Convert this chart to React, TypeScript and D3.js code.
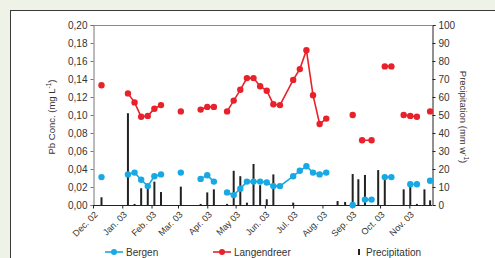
import React, { useEffect, useRef } from 'react';
import * as d3 from 'd3';

// weekly samples, null = no sample (breaks the line)
const bergenDates = ['2002-12-10', '2002-12-17', '2003-01-07', '2003-01-14', '2003-01-21', '2003-01-28', '2003-02-04', '2003-02-11', '2003-02-18', '2003-03-04', '2003-03-11', '2003-03-25', '2003-04-01', '2003-04-08', '2003-04-15', '2003-04-22', '2003-04-29', '2003-05-06', '2003-05-13', '2003-05-20', '2003-05-27', '2003-06-03', '2003-06-10', '2003-06-17', '2003-07-01', '2003-07-08', '2003-07-15', '2003-07-22', '2003-07-29', '2003-08-05', '2003-08-12', '2003-09-02', '2003-09-09', '2003-09-15', '2003-09-22', '2003-09-29', '2003-10-06', '2003-10-13', '2003-10-20', '2003-11-02', '2003-11-09', '2003-11-16', '2003-11-23'];
const bergenValues = [0.031, null, 0.034, 0.036, 0.028, 0.021, 0.032, 0.034, null, 0.036, null, 0.029, 0.033, 0.026, null, 0.014, 0.011, 0.018, 0.026, 0.026, 0.026, 0.025, 0.021, 0.021, 0.032, 0.038, 0.043, 0.036, 0.034, 0.036, null, 0.0, null, 0.006, 0.006, null, 0.031, 0.031, null, 0.023, 0.023, null, 0.027];

const langDates = ['2002-12-10', '2002-12-17', '2003-01-07', '2003-01-14', '2003-01-21', '2003-01-28', '2003-02-04', '2003-02-11', '2003-02-18', '2003-03-04', '2003-03-11', '2003-03-25', '2003-04-01', '2003-04-08', '2003-04-15', '2003-04-22', '2003-04-29', '2003-05-06', '2003-05-13', '2003-05-20', '2003-05-27', '2003-06-03', '2003-06-10', '2003-06-17', '2003-07-01', '2003-07-08', '2003-07-15', '2003-07-22', '2003-07-29', '2003-08-05', '2003-08-12', '2003-09-02', '2003-09-05', '2003-09-12', '2003-09-22', '2003-09-29', '2003-10-06', '2003-10-13', '2003-10-20', '2003-10-26', '2003-11-02', '2003-11-09', '2003-11-16', '2003-11-23'];
const langValues = [0.133, null, 0.124, 0.114, 0.098, 0.099, 0.107, 0.111, null, 0.104, null, 0.106, 0.109, 0.109, null, 0.104, 0.116, 0.128, 0.141, 0.141, 0.132, 0.127, 0.112, 0.111, 0.139, 0.151, 0.172, 0.122, 0.09, 0.096, null, 0.1, null, 0.072, 0.072, null, 0.154, 0.154, null, 0.1, 0.099, 0.098, null, 0.104];

const precipDates = ['2002-12-10', '2003-01-07', '2003-01-14', '2003-01-21', '2003-01-28', '2003-02-04', '2003-02-11', '2003-03-04', '2003-03-25', '2003-04-01', '2003-04-08', '2003-04-22', '2003-04-29', '2003-05-06', '2003-05-13', '2003-05-20', '2003-05-27', '2003-06-03', '2003-06-10', '2003-07-01', '2003-08-17', '2003-08-25', '2003-09-02', '2003-09-08', '2003-09-15', '2003-09-29', '2003-10-06', '2003-10-26', '2003-11-02', '2003-11-09', '2003-11-17', '2003-11-23'];
const precipValues = [4.3, 51, 0.6, 9.3, 10, 13, 7.2, 10.2, 0.6, 7, 8.7, 0.6, 19, 16, 1.3, 22.8, 11, 3.2, 17, 1.3, 2.2, 1.7, 17.2, 14.3, 16.7, 19.4, 16.5, 8.7, 11, 0.6, 8.7, 2.6];

const monthLabels = ['Dec. 02', 'Jan. 03', 'Feb. 03', 'Mar. 03', 'Apr. 03', 'May 03', 'Jun. 03', 'Jul. 03', 'Aug. 03', 'Sep. 03', 'Oct. 03', 'Nov. 03'];
const concTicks = [0, 0.02, 0.04, 0.06, 0.08, 0.1, 0.12, 0.14, 0.16, 0.18, 0.2];
const precipTicks = [0, 10, 20, 30, 40, 50, 60, 70, 80, 90, 100];

const BLUE = '#18a8e4';
const RED = '#e8212b';
const FONT = 'Liberation Sans, Arial, sans-serif';

const App = () => {
  const ref = useRef(null);

  useEffect(() => {
    const W = 495;
    const H = 258;
    const left = 93, right = 432, top = 25, bottom = 205;

    d3.select(ref.current).select('svg').remove();
    const svg = d3.select(ref.current)
      .append('svg')
      .attr('width', W)
      .attr('height', H)
      .style('display', 'block')
      .style('font-family', FONT);

    // page background + frame
    svg.append('rect').attr('width', W).attr('height', H).attr('fill', '#eff2e7');
    svg.append('rect')
      .attr('x', 10.5).attr('y', 10.5).attr('width', 520).attr('height', 300)
      .attr('fill', '#fff').attr('stroke', '#3a3a3a').attr('stroke-width', 1);

    const parse = d3.timeParse('%Y-%m-%d');
    const x = d3.scaleTime()
      .domain([new Date(2002, 11, 1), new Date(2003, 10, 25)])
      .range([left, right]);
    const y = d3.scaleLinear().domain([0, 0.2]).range([bottom, top]);
    const yp = d3.scaleLinear().domain([0, 100]).range([bottom, top]);

    // plot top border
    svg.append('line')
      .attr('x1', left).attr('x2', right).attr('y1', top + 0.5).attr('y2', top + 0.5)
      .attr('stroke', '#8a8a8a');

    // left axis
    const la = svg.append('g').attr('transform', `translate(${left + 0.5},0)`)
      .call(d3.axisLeft(y).tickValues(concTicks).tickSize(3).tickPadding(3)
        .tickFormat(d => d3.format('.2f')(d).replace('.', ',')));
    la.select('.domain').attr('stroke', '#777');
    la.selectAll('line').attr('stroke', '#777');
    la.selectAll('text').attr('fill', '#333').style('font-size', '10px').style('font-family', FONT);

    // right axis
    const ra = svg.append('g').attr('transform', `translate(${right + 0.5},0)`)
      .call(d3.axisRight(yp).tickValues(precipTicks).tickSize(3).tickPadding(3));
    ra.select('.domain').attr('stroke', '#222');
    ra.selectAll('line').attr('stroke', '#222');
    ra.selectAll('text').attr('fill', '#333').style('font-size', '10px').style('font-family', FONT);

    // precipitation bars
    const precip = precipDates.map((d, i) => ({ date: parse(d), v: precipValues[i] }));
    svg.append('g').selectAll('rect')
      .data(precip)
      .enter()
      .append('rect')
      .attr('x', d => x(d.date) - 1)
      .attr('y', d => yp(d.v))
      .attr('width', 2)
      .attr('height', d => bottom - yp(d.v))
      .attr('fill', '#222');

    // bottom axis
    const months = d3.timeMonth.range(new Date(2002, 11, 1), new Date(2003, 10, 2));
    const ba = svg.append('g').attr('transform', `translate(0,${bottom + 0.5})`)
      .call(d3.axisBottom(x).tickValues(months).tickSize(3).tickFormat(() => ''));
    ba.select('.domain').attr('stroke', '#222').attr('d', `M${left},0H${right}`);
    ba.selectAll('line').attr('stroke', '#222');

    svg.append('g').selectAll('text')
      .data(months)
      .enter()
      .append('text')
      .attr('transform', d => `translate(${x(d) + 3},${bottom + 8}) rotate(-45)`)
      .attr('text-anchor', 'end')
      .attr('dy', '0.35em')
      .attr('fill', '#333')
      .style('font-size', '9px')
      .text((d, i) => monthLabels[i]);

    // concentration series
    const drawSeries = (dates, values, color) => {
      const pts = dates.map((d, i) => ({ date: parse(d), v: values[i] }));
      const line = d3.line()
        .defined(d => d.v != null)
        .x(d => x(d.date))
        .y(d => y(d.v));
      svg.append('path')
        .datum(pts)
        .attr('d', line)
        .attr('fill', 'none')
        .attr('stroke', color)
        .attr('stroke-width', 1.6);
      svg.append('g').selectAll('circle')
        .data(pts.filter(d => d.v != null))
        .enter()
        .append('circle')
        .attr('cx', d => x(d.date))
        .attr('cy', d => y(d.v))
        .attr('r', 3.2)
        .attr('fill', color);
    };
    drawSeries(bergenDates, bergenValues, BLUE);
    drawSeries(langDates, langValues, RED);

    // axis titles
    const lt = svg.append('text')
      .attr('transform', `translate(55,${(top + bottom) / 2 + 2}) rotate(-90)`)
      .attr('text-anchor', 'middle')
      .attr('fill', '#333')
      .style('font-size', '9.5px');
    lt.append('tspan').text('Pb Conc. (mg L');
    lt.append('tspan').attr('dy', -4).style('font-size', '6.5px').text('-1');
    lt.append('tspan').attr('dy', 4).text(')');

    const rt = svg.append('text')
      .attr('transform', `translate(460,${(top + bottom) / 2 + 2}) rotate(90)`)
      .attr('text-anchor', 'middle')
      .attr('fill', '#333')
      .style('font-size', '9.5px');
    rt.append('tspan').text('Precipitation (mm w');
    rt.append('tspan').attr('dy', -4).style('font-size', '6.5px').text('-1');
    rt.append('tspan').attr('dy', 4).text(')');

    // legend
    const ly = 252;
    const legend = [
      { label: 'Bergen', color: BLUE, x: 105 },
      { label: 'Langendreer', color: RED, x: 213 },
    ];
    legend.forEach(l => {
      svg.append('line').attr('x1', l.x).attr('x2', l.x + 18).attr('y1', ly).attr('y2', ly)
        .attr('stroke', l.color).attr('stroke-width', 1.6);
      svg.append('circle').attr('cx', l.x + 9).attr('cy', ly).attr('r', 3).attr('fill', l.color);
      svg.append('text').attr('x', l.x + 21).attr('y', ly).attr('dy', '0.35em')
        .attr('fill', '#333').style('font-size', '10px').text(l.label);
    });
    svg.append('rect').attr('x', 358).attr('y', ly - 3).attr('width', 2).attr('height', 6).attr('fill', '#222');
    svg.append('text').attr('x', 366).attr('y', ly).attr('dy', '0.35em')
      .attr('fill', '#333').style('font-size', '10px').text('Precipitation');
  }, []);

  return <div ref={ref} style={{ position: 'absolute', left: 0, top: 0 }}></div>;
};

export default App;
